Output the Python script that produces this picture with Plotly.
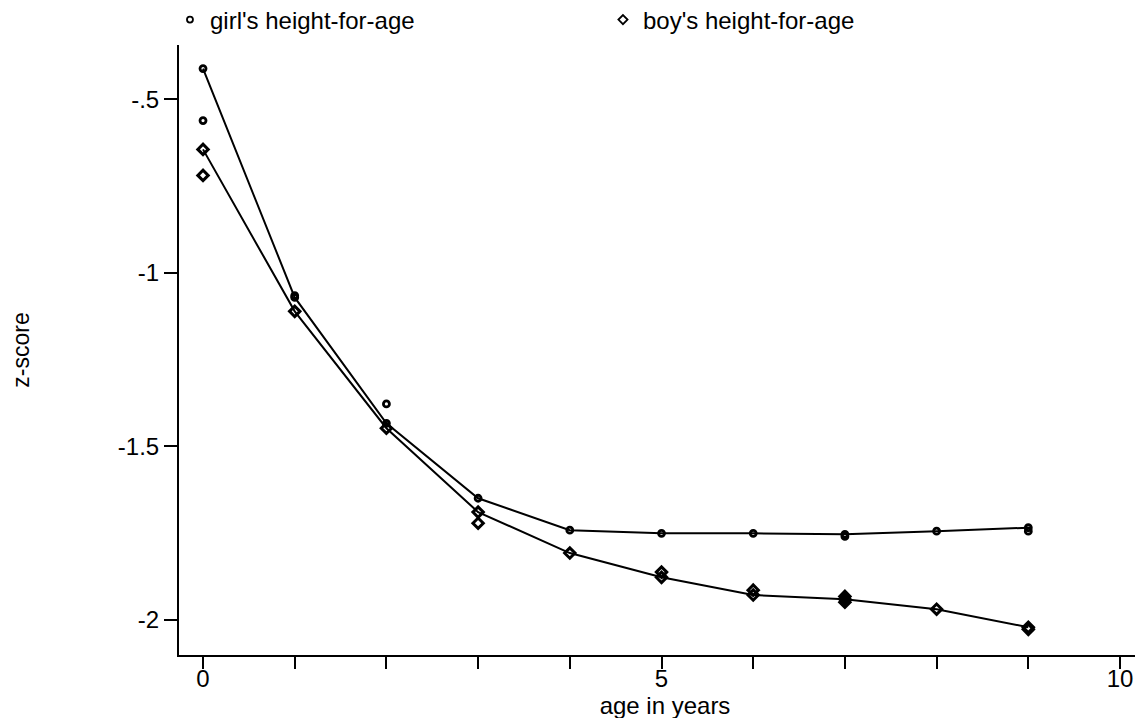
import plotly.graph_objects as go

ages = [0, 1, 2, 3, 4, 5, 6, 7, 8, 9]
girl_z = [-0.411, -1.071, -1.434, -1.650, -1.742, -1.751, -1.751, -1.754, -1.745, -1.735]
boy_z = [-0.644, -1.111, -1.448, -1.690, -1.808, -1.878, -1.929, -1.941, -1.970, -2.022]

girl_extra_age = [0, 1, 2, 7, 9]
girl_extra_z = [-0.561, -1.066, -1.378, -1.760, -1.745]
boy_extra_age = [0, 3, 5, 6, 7, 7, 9]
boy_extra_z = [-0.719, -1.722, -1.863, -1.915, -1.933, -1.950, -2.028]

x_ticks = [0, 5, 10]
x_minor = list(range(0, 11))
y_ticks = [-0.5, -1, -1.5, -2]
y_labels = ["-.5", "-1", "-1.5", "-2"]

FONT = "Liberation Sans, Arial, sans-serif"
BLACK = "#000000"

fig = go.Figure()

fig.add_trace(go.Scatter(
    x=ages, y=girl_z, mode="lines+markers", showlegend=False,
    line=dict(color=BLACK, width=2),
    marker=dict(symbol="circle-open", size=6, color=BLACK, line=dict(width=2.8)),
))
fig.add_trace(go.Scatter(
    x=girl_extra_age, y=girl_extra_z, mode="markers", showlegend=False,
    marker=dict(symbol="circle-open", size=6, color=BLACK, line=dict(width=2.8)),
))
fig.add_trace(go.Scatter(
    x=ages, y=boy_z, mode="lines+markers", showlegend=False,
    line=dict(color=BLACK, width=2),
    marker=dict(symbol="diamond-open", size=8, color=BLACK, line=dict(width=3)),
))
fig.add_trace(go.Scatter(
    x=boy_extra_age, y=boy_extra_z, mode="markers", showlegend=False,
    marker=dict(symbol="diamond-open", size=8, color=BLACK, line=dict(width=3)),
))

# legend entries (marker only)
fig.add_trace(go.Scatter(
    x=[None], y=[None], mode="markers", name="girl's height-for-age",
    marker=dict(symbol="circle-open", size=6, color=BLACK, line=dict(width=1.8)),
))
fig.add_trace(go.Scatter(
    x=[None], y=[None], mode="markers", name="boy's height-for-age",
    marker=dict(symbol="diamond-open", size=7, color=BLACK, line=dict(width=1.8)),
))

fig.update_layout(
    width=1143, height=718,
    margin=dict(l=171, r=0, t=37, b=71, autoexpand=False),
    paper_bgcolor="white", plot_bgcolor="white",
    font=dict(family=FONT, size=24, color=BLACK),
    legend=dict(
        orientation="h", x=-0.0093, xanchor="left", y=1.041, yanchor="middle",
        entrywidth=388, entrywidthmode="pixels",
        font=dict(family=FONT, size=24, color=BLACK),
        bgcolor="rgba(0,0,0,0)", itemclick=False,
    ),
    xaxis=dict(
        range=[-0.262, 10.338], showgrid=False, zeroline=False,
        showline=True, linecolor=BLACK, linewidth=2,
        tickmode="array", tickvals=x_ticks, ticktext=[str(v) for v in x_ticks],
        ticks="outside", ticklen=12, tickwidth=2, tickcolor=BLACK,
        ticklabelstandoff=-11,
        minor=dict(tickmode="array", tickvals=x_minor, ticks="outside",
                   ticklen=12, tickwidth=2, tickcolor=BLACK, showgrid=False),
        title=dict(text="age in years", standoff=0, font=dict(size=24)),
        tickfont=dict(size=24),
    ),
    yaxis=dict(
        range=[-2.102, -0.343], showgrid=False, zeroline=False,
        showline=True, linecolor=BLACK, linewidth=2,
        tickmode="array", tickvals=y_ticks, ticktext=y_labels,
        ticks="outside", ticklen=13, tickwidth=2, tickcolor=BLACK,
        title=dict(text="z-score", standoff=91, font=dict(size=23)),
        tickfont=dict(size=24),
    ),
)

fig.write_html("out.html")
